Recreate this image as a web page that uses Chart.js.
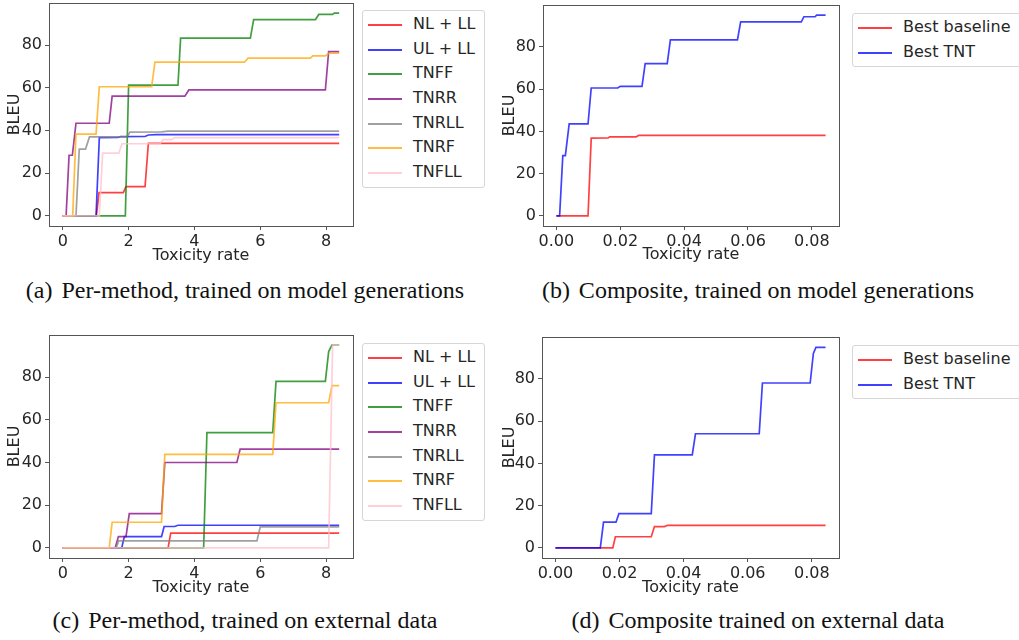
<!DOCTYPE html>
<html>
<head>
<meta charset="utf-8">
<script src="https://cdn.jsdelivr.net/npm/chart.js@4.4.1/dist/chart.umd.min.js"></script>
<style>
    body { margin: 0; background: #fff; }
    #page { position: relative; width: 1019px; height: 640px; overflow: hidden; font-family: 'DejaVu Sans'; }
    .panel { position: absolute; }
    .legend { position: absolute; border: 1px solid #d6d6d6; border-radius: 3px; box-sizing: border-box; background: #fff; font-size: 16px; color: #262626; }
    .legend .row { position: relative; height: 24.65px; }
    .legend .swatch { position: absolute; left: 5px; top: 12px; width: 34px; height: 2px; }
    .legend .text { position: absolute; left: 50px; top: 0; line-height: 24.65px; white-space: nowrap; }
    .caption { position: absolute; font-family: 'Liberation Serif'; font-size: 24px; color: #111; white-space: nowrap; transform: translate(-50%, -50%); }
    .caption span { margin-right: 9px; }
</style>
</head>
<body>
<div id="page">
    <div class="panel" style="left:0;top:0;width:360px;height:268px"><canvas id="chartA"></canvas></div>
    <div class="panel" style="left:500px;top:0;width:345px;height:268px"><canvas id="chartB"></canvas></div>
    <div class="panel" style="left:0;top:330px;width:360px;height:268px"><canvas id="chartC"></canvas></div>
    <div class="panel" style="left:500px;top:330px;width:345px;height:268px"><canvas id="chartD"></canvas></div>

    <div class="legend" id="legendA" style="left:362px;top:10px;width:123px;height:178px;padding-top:1px"></div>
    <div class="legend" id="legendB" style="left:852px;top:13px;width:175px;height:54px;padding-top:1px"></div>
    <div class="legend" id="legendC" style="left:362px;top:343px;width:123px;height:178px;padding-top:1px"></div>
    <div class="legend" id="legendD" style="left:852px;top:345px;width:175px;height:54px;padding-top:1px"></div>

    <div class="caption" style="left:245px;top:290px"><span>(a)</span>Per-method, trained on model generations</div>
    <div class="caption" style="left:758px;top:290px"><span>(b)</span>Composite, trained on model generations</div>
    <div class="caption" style="left:245px;top:620px"><span>(c)</span>Per-method, trained on external data</div>
    <div class="caption" style="left:758px;top:620px"><span>(d)</span>Composite trained on external data</div>
</div>

<script>
// Данные: [toxicity rate, BLEU]

const methodLabels = ['NL + LL', 'UL + LL', 'TNFF', 'TNRR', 'TNRLL', 'TNRF', 'TNFLL'];
const methodColors = [
    'rgba(255, 0, 0, 0.75)',
    'rgba(0, 0, 255, 0.75)',
    'rgba(0, 128, 0, 0.75)',
    'rgba(128, 0, 128, 0.75)',
    'rgba(128, 128, 128, 0.75)',
    'rgba(255, 165, 0, 0.75)',
    'rgba(255, 192, 203, 0.75)'
];
const compositeLabels = ['Best baseline', 'Best TNT'];
const compositeColors = ['rgba(255, 0, 0, 0.75)', 'rgba(0, 0, 255, 0.75)'];

const rateTicks = [0, 2, 4, 6, 8];
const compositeRateTicks = [0, 0.02, 0.04, 0.06, 0.08];
const bleuTicks = [0, 20, 40, 60, 80];

// (a) per-method, model generations
const aNlLl = [[0, 0], [1.02, 0], [1.1, 10.9], [1.84, 10.9], [1.92, 13.7], [2.5, 13.7], [2.6, 34], [8.4, 34]];
const aUlLl = [[0, 0], [1.01, 0], [1.11, 36.7], [1.68, 36.8], [1.75, 37.1], [2.5, 37.2], [2.6, 37.9], [2.85, 38.1], [8.4, 38.1]];
const aTnff = [[0, 0], [1.9, 0], [2.0, 61.3], [3.5, 61.3], [3.58, 83.3], [5.7, 83.3], [5.8, 92], [7.68, 92], [7.78, 94.4], [8.2, 94.4], [8.25, 95], [8.4, 95]];
const aTnrr = [[0, 0], [0.1, 0], [0.19, 28.4], [0.29, 28.4], [0.4, 43.4], [1.41, 43.4], [1.5, 56.1], [3.71, 56.1], [3.83, 59], [7.98, 59], [8.08, 77], [8.4, 77]];
const aTnrll = [[0, 0], [0.4, 0], [0.5, 31.3], [0.69, 31.3], [0.81, 37], [1.94, 37], [2.04, 39.2], [3.0, 39.4], [3.2, 39.7], [8.4, 39.7]];
const aTnrf = [[0, 0], [0.3, 0], [0.4, 38.3], [1.01, 38.3], [1.11, 60.5], [2.7, 60.5], [2.8, 72], [5.52, 72], [5.63, 73.9], [7.52, 73.9], [7.6, 75], [7.98, 75], [8.08, 76.2], [8.4, 76.2]];
const aTnfll = [[0, 0], [1.11, 0], [1.21, 29.4], [1.7, 29.4], [1.8, 33.8], [2.95, 33.8], [3.05, 35.7], [3.3, 35.7], [3.4, 36.7], [8.4, 36.7]];

// (b) composite, model generations
const bBaseline = [[0, 0], [0.0099, 0], [0.0109, 36.8], [0.0162, 36.9], [0.0167, 37.4], [0.025, 37.4], [0.0258, 38.1], [0.0843, 38.1]];
const bTnt = [[0, 0], [0.001, 0], [0.002, 28.5], [0.0028, 28.5], [0.004, 43.5], [0.0099, 43.5], [0.0109, 60.5], [0.0192, 60.5], [0.02, 61.3], [0.0268, 61.3], [0.0278, 72], [0.0347, 72], [0.0357, 83.3], [0.0567, 83.3], [0.0577, 91.8], [0.0767, 91.8], [0.0775, 94.2], [0.081, 94.2], [0.0815, 95], [0.0843, 95]];

// (c) per-method, external data
const cNlLl = [[0, 0], [3.2, 0], [3.28, 6.9], [8.4, 6.9]];
const cUlLl = [[0, 0], [1.79, 0], [1.87, 5.3], [3.0, 5.3], [3.08, 10], [3.4, 10], [3.5, 10.6], [8.4, 10.6]];
const cTnff = [[0, 0], [4.28, 0], [4.38, 54], [6.38, 54], [6.48, 78], [7.98, 78], [8.08, 92], [8.18, 95], [8.4, 95]];
const cTnrr = [[0, 0], [1.59, 0], [1.69, 5.3], [1.92, 5.3], [2.02, 16], [3.0, 16], [3.1, 40], [5.29, 40], [5.39, 46.3], [8.4, 46.3]];
const cTnrll = [[0, 0], [1.62, 0], [1.7, 3.3], [5.9, 3.3], [6.0, 9.8], [8.4, 9.8]];
const cTnrf = [[0, 0], [1.41, 0], [1.5, 12], [3.0, 12], [3.1, 43.8], [6.38, 43.8], [6.48, 68], [8.08, 68], [8.18, 76], [8.4, 76]];
const cTnfll = [[0, 0], [8.08, 0], [8.2, 95], [8.4, 95]];

// (d) composite, external data
const dBaseline = [[0, 0], [0.0179, 0], [0.0187, 5.3], [0.0299, 5.3], [0.0309, 10.1], [0.034, 10.1], [0.035, 10.7], [0.0843, 10.7]];
const dTnt = [[0, 0], [0.014, 0], [0.015, 12.2], [0.0189, 12.2], [0.0198, 16.2], [0.0299, 16.2], [0.0309, 44], [0.0427, 44], [0.0437, 54], [0.0636, 54], [0.0646, 78], [0.0795, 78], [0.0805, 92], [0.0813, 94.8], [0.0843, 94.8]];

Chart.defaults.font.family = 'DejaVu Sans';
Chart.defaults.color = '#262626';

// рамка вокруг области графика (как у matplotlib)
const frame = {
    id: 'frame',
    afterDraw(chart) {
        const {ctx, chartArea: a} = chart;
        ctx.save();
        ctx.strokeStyle = '#555';
        ctx.lineWidth = 1;
        ctx.strokeRect(Math.round(a.left) + 0.5, Math.round(a.top) + 0.5, Math.round(a.right - a.left), Math.round(a.bottom - a.top));
        ctx.restore();
    }
};

function renderStepChart(canvasId, labels, series, colors, opts) {
    const ctx = document.getElementById(canvasId).getContext('2d');

    new Chart(ctx, {
        type: 'line',
        data: {
            datasets: series.map((pts, i) => ({
                label: labels[i],
                data: pts.map(p => ({x: p[0], y: p[1]})),
                borderColor: colors[i],
                backgroundColor: colors[i],
                borderWidth: 1.7,
                pointRadius: 0,
                fill: false,
                tension: 0,
                order: series.length - i
            }))
        },
        options: {
            responsive: true,
            maintainAspectRatio: false,
            animation: false,
            layout: {
                padding: opts.padding
            },
            plugins: {
                legend: { display: false },
                tooltip: { enabled: false }
            },
            scales: {
                x: {
                    type: 'linear',
                    min: opts.xMin,
                    max: opts.xMax,
                    afterBuildTicks: s => { s.ticks = opts.xTicks.map(v => ({value: v})); },
                    afterFit: s => {
                        s.height = opts.xHeight;
                        s.paddingLeft = 0;
                        s.paddingRight = 0;
                    },
                    ticks: {
                        autoSkip: false,
                        maxRotation: 0,
                        padding: 2,
                        font: { size: 16 },
                        callback: opts.xFormat
                    },
                    grid: { drawOnChartArea: false, drawTicks: true, tickLength: 4, color: '#555' },
                    border: { display: false },
                    title: {
                        display: true,
                        text: 'Toxicity rate',
                        font: { size: 16 },
                        padding: { top: 0, bottom: opts.xTitlePad }
                    }
                },
                y: {
                    min: -4.75,
                    max: 99.75,
                    afterBuildTicks: s => { s.ticks = bleuTicks.map(v => ({value: v})); },
                    afterFit: s => {
                        s.width = opts.yWidth;
                        s.paddingTop = 0;
                        s.paddingBottom = 0;
                    },
                    ticks: {
                        autoSkip: false,
                        padding: 3,
                        font: { size: 16 }
                    },
                    grid: { drawOnChartArea: false, drawTicks: true, tickLength: 4, color: '#555' },
                    border: { display: false },
                    title: {
                        display: true,
                        text: 'BLEU',
                        font: { size: 16 },
                        padding: { top: opts.yTitlePad, bottom: 0 }
                    }
                }
            }
        },
        plugins: [frame]
    });
}

function renderLegend(id, labels, colors) {
    const box = document.getElementById(id);
    labels.forEach((label, i) => {
        const row = document.createElement('div');
        row.className = 'row';
        row.innerHTML = '<div class="swatch" style="background:' + colors[i] + '"></div><div class="text">' + label + '</div>';
        box.appendChild(row);
    });
}

renderStepChart('chartA', methodLabels, [aNlLl, aUlLl, aTnff, aTnrr, aTnrll, aTnrf, aTnfll], methodColors, {
    padding: { top: 3, right: 7, left: 0, bottom: 0 },
    xMin: -0.42, xMax: 8.82, xTicks: rateTicks, xFormat: v => v,
    xHeight: 42, yWidth: 49, xTitlePad: 3, yTitlePad: 5
});

renderStepChart('chartB', compositeLabels, [bBaseline, bTnt], compositeColors, {
    padding: { top: 5, right: 6, left: 0, bottom: 0 },
    xMin: -0.0042, xMax: 0.0885, xTicks: compositeRateTicks, xFormat: v => v.toFixed(2),
    xHeight: 42, yWidth: 43, xTitlePad: 4, yTitlePad: 0
});

renderStepChart('chartC', methodLabels, [cNlLl, cUlLl, cTnff, cTnrr, cTnrll, cTnrf, cTnfll], methodColors, {
    padding: { top: 5, right: 7, left: 0, bottom: 0 },
    xMin: -0.42, xMax: 8.82, xTicks: rateTicks, xFormat: v => v,
    xHeight: 40, yWidth: 49, xTitlePad: 1, yTitlePad: 5
});

renderStepChart('chartD', compositeLabels, [dBaseline, dTnt], compositeColors, {
    padding: { top: 7, right: 6, left: 0, bottom: 0 },
    xMin: -0.0042, xMax: 0.0885, xTicks: compositeRateTicks, xFormat: v => v.toFixed(2),
    xHeight: 40, yWidth: 42, xTitlePad: 1, yTitlePad: 0
});

renderLegend('legendA', methodLabels, methodColors);
renderLegend('legendB', compositeLabels, compositeColors);
renderLegend('legendC', methodLabels, methodColors);
renderLegend('legendD', compositeLabels, compositeColors);
</script>
</body>
</html>
